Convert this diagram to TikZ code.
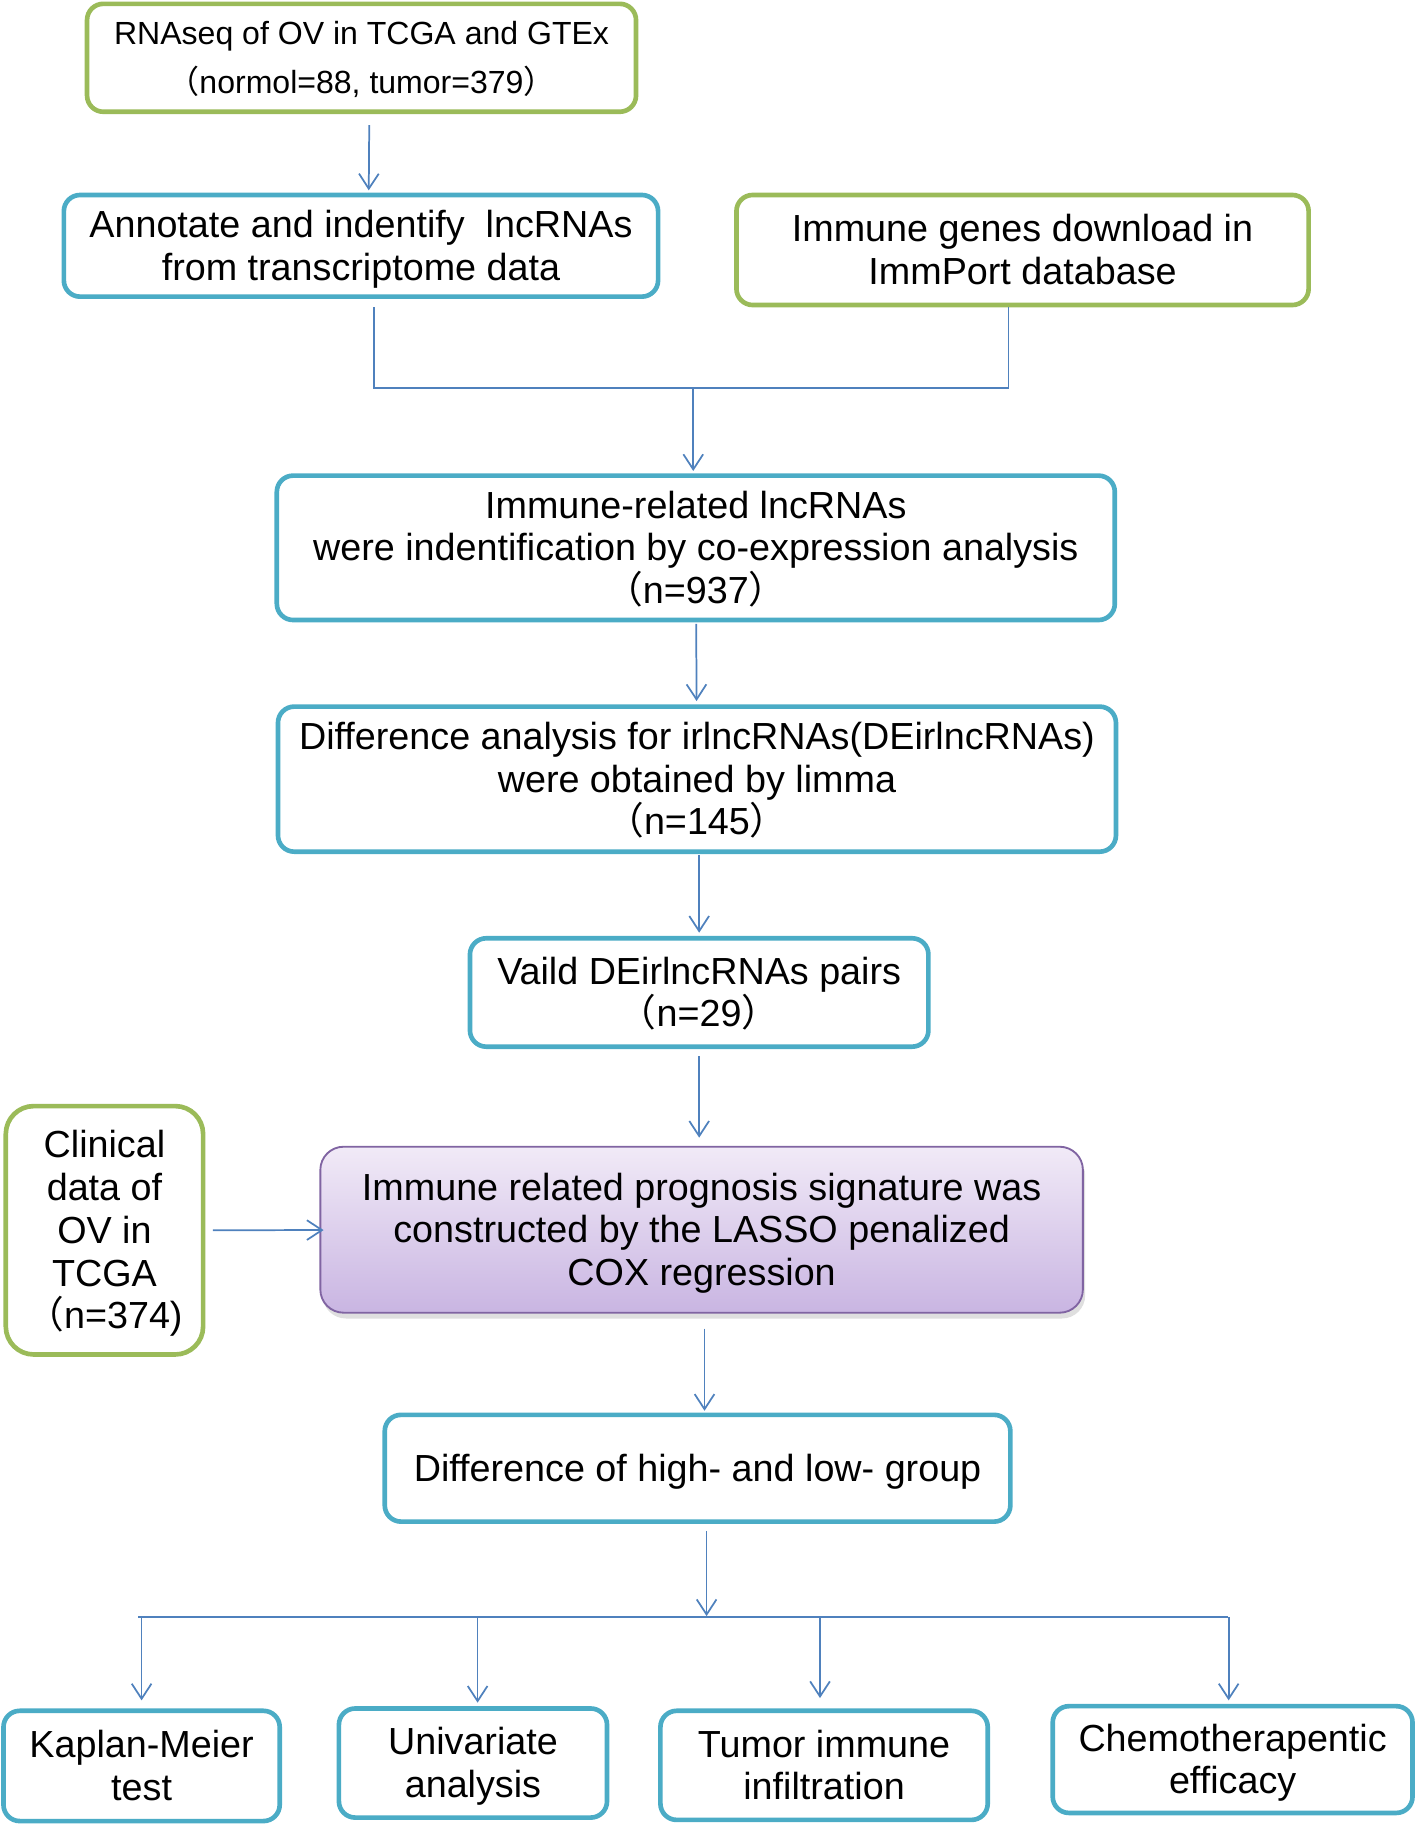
\documentclass[tikz,border=0pt]{standalone}
\usepackage{fontspec}
\setmainfont{Liberation Sans}
\newfontfamily\cjk{Noto Sans CJK SC}
\usepackage{xcolor}
\usepackage{tikz}
\usetikzlibrary{arrows.meta}
\usetikzlibrary{calc}
\usetikzlibrary{shadows}
\definecolor{boxblue}{HTML}{4BACC6}
\definecolor{boxgreen}{HTML}{9BBB59}
\definecolor{linkblue}{HTML}{4F81BD}
\definecolor{sigedge}{HTML}{8064A2}
\definecolor{sigtop}{HTML}{F1EAF7}
\definecolor{sigbottom}{HTML}{C9B5E2}
\newcommand{\lp}{\smash{\cjk （}}
\newcommand{\rp}{\smash{\cjk ）}}
% line struts, so each box centres its lines like the slide text
\newcommand{\bst}{\rule[-3.45pt]{0pt}{18.15pt}}
\newcommand{\tst}{\rule[-2.9pt]{0pt}{15.4pt}}
\tikzset{
  box/.style={rounded corners=7pt, line width=2pt, align=center, inner sep=0pt, fill=white,
    font=\fontsize{16.25}{18.4}\selectfont},
  bluebox/.style={box, draw=boxblue},
  greenbox/.style={box, draw=boxgreen},
  sigbox/.style={box, draw=sigedge, line width=0.8pt, rounded corners=10pt,
    top color=sigtop, bottom color=sigbottom,
    drop shadow={shadow xshift=1pt, shadow yshift=-2.5pt, opacity=0.25}},
  link/.style={linkblue, line width=0.75pt}
}
\begin{document}
\begin{tikzpicture}[x=0.5pt, y=-0.5pt, >={Straight Barb[length=6.5pt,width=8.5pt]}]
    \useasboundingbox (0,0) rectangle (1220,1572.4);
    \node[greenbox, minimum width=236.5pt, minimum height=46.5pt, font=\fontsize{13.8}{21.25}\selectfont] (rnaseq) at (311.5,49.8) {\tst RNAseq of OV in TCGA and GTEx\\\lp normol=88, tumor=379\rp\tst};
    \node[bluebox, minimum width=256pt, minimum height=43.8pt] (lnc) at (311,211.8) {\bst Annotate and indentify~ lncRNAs\\from transcriptome data\bst};
    \node[greenbox, minimum width=246.5pt, minimum height=47.4pt] (immgene) at (881,215.4) {\bst Immune genes download in\\ImmPort database\bst};
    \node[bluebox, minimum width=361pt, minimum height=62.2pt] (irlnc) at (599.5,472) {\bst Immune-related lncRNAs\\were indentification by co-expression analysis\\\lp n=937\rp\bst};
    \node[bluebox, minimum width=361pt, minimum height=62.5pt] (deirlnc) at (600.5,671.3) {\bst Difference analysis for irlncRNAs(DEirlncRNAs)\\were obtained by limma\\\lp n=145\rp\bst};
    \node[bluebox, minimum width=197.5pt, minimum height=46.7pt] (pairs) at (602.4,855.1) {\bst Vaild DEirlncRNAs pairs\\\lp n=29\rp\bst};
    \node[sigbox, minimum width=328.5pt, minimum height=71.5pt] (sig) at (604.5,1059.5) {\bst Immune related prognosis signature was\\constructed by the LASSO penalized\\COX regression\bst};
    \node[greenbox, rounded corners=12pt, minimum width=85pt, minimum height=107pt] (clinical) at (90,1060) {\bst Clinical\\data of\\OV in\\TCGA\\\lp n=374)\bst};
    \node[bluebox, minimum width=269.5pt, minimum height=46pt] (group) at (601,1265) {\bst Difference of high- and low- group\bst};
    \node[bluebox, minimum width=119pt, minimum height=47.5pt] (km) at (122,1521.5) {\bst Kaplan-Meier\\test\bst};
    \node[bluebox, minimum width=115.5pt, minimum height=47pt] (uni) at (407.5,1519) {\bst Univariate\\analysis\bst};
    \node[bluebox, minimum width=141pt, minimum height=47pt] (tumor) at (710,1521) {\bst Tumor immune\\infiltration\bst};
    \node[bluebox, minimum width=155pt, minimum height=46pt] (chemo) at (1062,1516) {\bst Chemotherapentic\\efficacy\bst};
    % joins
    \coordinate (jl) at (322.5,334.6);
    \coordinate (jm) at (597.3,334.6);
    \coordinate (jr) at (869,334.6);
    \coordinate (hl) at (119,1393);
    \coordinate (hr) at (1058,1393);
    \path [link, ->] ([xshift=3.35pt]rnaseq.south) edge[shorten <=4.75pt, shorten >=1pt] ([xshift=3.35pt]lnc.north);
    \draw [link, shorten <=3.6pt] (lnc.south -| jl) -- (jl) -- (jr) -- (immgene.south -| jr);
    \path [link, ->] (jm) edge[shorten >=1pt] (irlnc.north -| jm);
    \path [link, ->] (irlnc) edge[shorten <=0.7pt, shorten >=1.4pt] (deirlnc);
    \path [link, ->] (deirlnc.south -| pairs.north) edge[shorten <=0.6pt, shorten >=1.4pt] (pairs.north);
    \path [link, ->] (pairs.south) edge[shorten <=3.1pt, shorten >=3.5pt] (sig.north -| pairs.south);
    \path [link, ->] (clinical) edge[shorten <=3.25pt, shorten >=-1.8pt] (sig);
    \path [link, ->] ([xshift=1.25pt]sig.south) edge[shorten <=6.5pt, shorten >=0.75pt] ([xshift=1.25pt]sig.south |- group.north);
    \path [link, ->] ([xshift=3.9pt]group.south) edge[shorten <=3pt, shorten >=0.3pt] ([xshift=3.9pt]group.south |- hl);
    \draw [link, line width=1.1pt] (hl) -- (hr);
    \path [link, ->] (km.north |- hl) edge[shorten >=3.5pt] (km.north);
    \path [link, ->] ([xshift=2pt]uni.north |- hl) edge[shorten >=1.5pt] ([xshift=2pt]uni.north);
    \path [link, ->] ([xshift=-1.75pt]tumor.north |- hl) edge[shorten >=4.5pt] ([xshift=-1.75pt]tumor.north);
    \path [link, ->] ([xshift=-1.7pt]chemo.north |- hl) edge[shorten >=1.5pt] ([xshift=-1.7pt]chemo.north);
\end{tikzpicture}
\end{document}
